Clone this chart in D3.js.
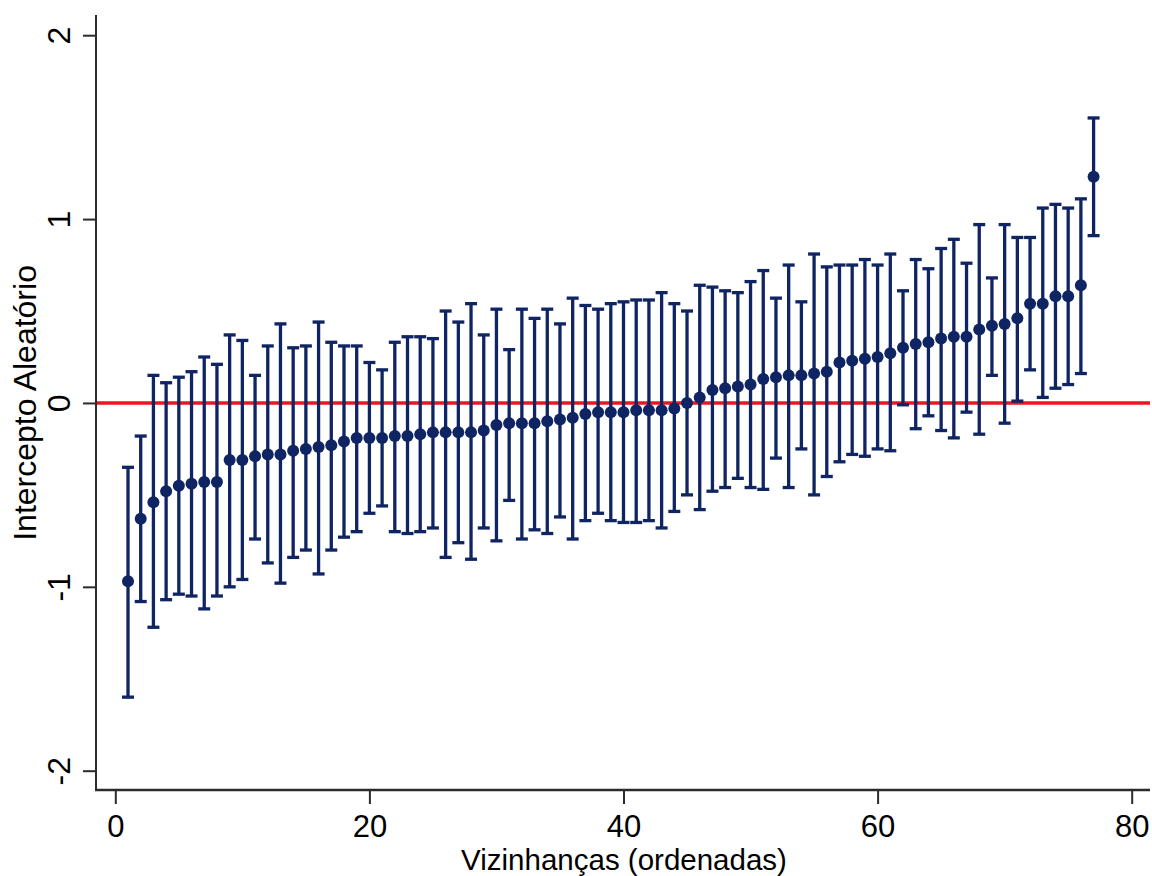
<!DOCTYPE html>
<html>
<head>
<meta charset="utf-8">
<script src="https://cdn.jsdelivr.net/npm/d3@7"></script>
<style>
  html, body { margin: 0; padding: 0; background: #ffffff; }
  svg { display: block; }
  text { font-family: "Liberation Sans", Arial, sans-serif; fill: #000; }
</style>
</head>
<body>
<svg id="chart" width="1152" height="876"></svg>
<script>
// Random intercept estimates per neighbourhood, ranked, with 95% bounds
const rank = d3.range(1, 78);
const estimate = [
  -0.97, -0.63, -0.54, -0.48, -0.45, -0.44, -0.43, -0.43, -0.31, -0.31,
  -0.29, -0.28, -0.28, -0.26, -0.25, -0.24, -0.23, -0.21, -0.19, -0.19,
  -0.19, -0.18, -0.18, -0.17, -0.16, -0.16, -0.16, -0.16, -0.15, -0.12,
  -0.11, -0.11, -0.11, -0.10, -0.09, -0.08, -0.06, -0.05, -0.05, -0.05,
  -0.04, -0.04, -0.04, -0.03, 0.00, 0.03, 0.07, 0.08, 0.09, 0.10,
  0.13, 0.14, 0.15, 0.15, 0.16, 0.17, 0.22, 0.23, 0.24, 0.25,
  0.27, 0.30, 0.32, 0.33, 0.35, 0.36, 0.36, 0.40, 0.42, 0.43,
  0.46, 0.54, 0.54, 0.58, 0.58, 0.64, 1.23
];
const upper = [
  -0.35, -0.18, 0.15, 0.11, 0.14, 0.17, 0.25, 0.21, 0.37, 0.34,
  0.15, 0.31, 0.43, 0.30, 0.31, 0.44, 0.33, 0.31, 0.31, 0.22,
  0.18, 0.33, 0.36, 0.36, 0.35, 0.50, 0.44, 0.54, 0.37, 0.51,
  0.29, 0.51, 0.46, 0.51, 0.43, 0.57, 0.53, 0.51, 0.54, 0.55,
  0.56, 0.56, 0.60, 0.54, 0.50, 0.64, 0.63, 0.61, 0.60, 0.66,
  0.72, 0.57, 0.75, 0.55, 0.81, 0.74, 0.75, 0.75, 0.78, 0.75,
  0.81, 0.61, 0.78, 0.73, 0.84, 0.89, 0.76, 0.97, 0.68, 0.97,
  0.90, 0.90, 1.06, 1.08, 1.06, 1.11, 1.55
];
const lower = [
  -1.60, -1.08, -1.22, -1.07, -1.04, -1.05, -1.12, -1.05, -1.00, -0.96,
  -0.74, -0.87, -0.98, -0.84, -0.80, -0.93, -0.80, -0.73, -0.70, -0.60,
  -0.56, -0.70, -0.71, -0.70, -0.68, -0.84, -0.76, -0.85, -0.68, -0.75,
  -0.53, -0.74, -0.69, -0.71, -0.62, -0.74, -0.64, -0.60, -0.64, -0.65,
  -0.65, -0.64, -0.68, -0.59, -0.50, -0.58, -0.48, -0.46, -0.41, -0.46,
  -0.47, -0.30, -0.46, -0.25, -0.50, -0.40, -0.32, -0.28, -0.29, -0.25,
  -0.26, -0.01, -0.14, -0.07, -0.15, -0.19, -0.05, -0.17, 0.15, -0.11,
  0.01, 0.18, 0.03, 0.08, 0.10, 0.16, 0.91
];
const xTicks = [0, 20, 40, 60, 80];
const yTicks = [-2, -1, 0, 1, 2];
const xTitle = "Vizinhanças (ordenadas)";
const yTitle = "Intercepto Aleatório";

const navy = "#0f2462";
const red = "#ee1520";
const axisColor = "#2b2b2b";

const svg = d3.select("#chart");

// Plot region: axes meet at the lower-left corner
const axisLeftX = 96, axisBottomY = 790, axisTopY = 15, axisRightX = 1150;

const x = d3.scaleLinear().domain([0, 80]).range([115.3, 1131.7]);
const y = d3.scaleLinear().domain([-2, 2]).range([770.7, 35.2]);

const rows = rank.map((r, i) => ({ r, est: estimate[i], lo: lower[i], hi: upper[i] }));

// Reference line at zero
svg.append("line")
  .attr("x1", axisLeftX).attr("x2", axisRightX)
  .attr("y1", y(0)).attr("y2", y(0))
  .attr("stroke", red).attr("stroke-width", 3.5);

// Y axis
const yAxis = svg.append("g")
  .attr("transform", `translate(${axisLeftX},0)`)
  .call(d3.axisLeft(y).tickValues(yTicks).tickSize(13).tickPadding(0)
    .tickFormat(d => d < 0 ? "-" + Math.abs(d) : String(d)));
yAxis.select(".domain").remove();
yAxis.selectAll(".tick line").attr("stroke", axisColor).attr("stroke-width", 2);
yAxis.selectAll(".tick text")
  .attr("x", null).attr("dy", null)
  .attr("text-anchor", "middle")
  .attr("transform", "translate(-26,0) rotate(-90)")
  .style("font-size", "32px")
  .style("font-family", "'Liberation Sans', Arial, sans-serif")
  .attr("fill", "#000");

// X axis
const xAxis = svg.append("g")
  .attr("transform", `translate(0,${axisBottomY})`)
  .call(d3.axisBottom(x).tickValues(xTicks).tickSize(14).tickPadding(0)
    .tickFormat(d3.format("d")));
xAxis.select(".domain").remove();
xAxis.selectAll(".tick line").attr("stroke", axisColor).attr("stroke-width", 2);
xAxis.selectAll(".tick text")
  .attr("y", 47).attr("dy", null)
  .style("font-size", "31px")
  .style("font-family", "'Liberation Sans', Arial, sans-serif")
  .attr("fill", "#000");

// Axis lines
svg.append("line")
  .attr("x1", axisLeftX).attr("x2", axisLeftX)
  .attr("y1", axisTopY).attr("y2", axisBottomY + 1)
  .attr("stroke", axisColor).attr("stroke-width", 2);
svg.append("line")
  .attr("x1", axisLeftX - 1).attr("x2", axisRightX)
  .attr("y1", axisBottomY).attr("y2", axisBottomY)
  .attr("stroke", axisColor).attr("stroke-width", 2.5);

// Titles
svg.append("text")
  .attr("x", 624).attr("y", 870)
  .attr("text-anchor", "middle")
  .style("font-size", "29.5px")
  .text(xTitle);
svg.append("text")
  .attr("transform", `translate(36,${(y(2) + y(-2)) / 2}) rotate(-90)`)
  .attr("text-anchor", "middle")
  .style("font-size", "32px")
  .text(yTitle);

// Confidence intervals
const bars = svg.append("g").attr("stroke", navy).attr("stroke-width", 3.3).attr("fill", "none");
bars.selectAll("line.ci")
  .data(rows).join("line").attr("class", "ci")
  .attr("x1", d => x(d.r)).attr("x2", d => x(d.r))
  .attr("y1", d => y(d.lo)).attr("y2", d => y(d.hi));
const capHalf = 6;
bars.selectAll("line.capHi")
  .data(rows).join("line").attr("class", "capHi")
  .attr("x1", d => x(d.r) - capHalf).attr("x2", d => x(d.r) + capHalf)
  .attr("y1", d => y(d.hi)).attr("y2", d => y(d.hi));
bars.selectAll("line.capLo")
  .data(rows).join("line").attr("class", "capLo")
  .attr("x1", d => x(d.r) - capHalf).attr("x2", d => x(d.r) + capHalf)
  .attr("y1", d => y(d.lo)).attr("y2", d => y(d.lo));

// Point estimates
svg.append("g").selectAll("circle")
  .data(rows).join("circle")
  .attr("cx", d => x(d.r)).attr("cy", d => y(d.est))
  .attr("r", 6)
  .attr("fill", navy);
</script>
</body>
</html>
